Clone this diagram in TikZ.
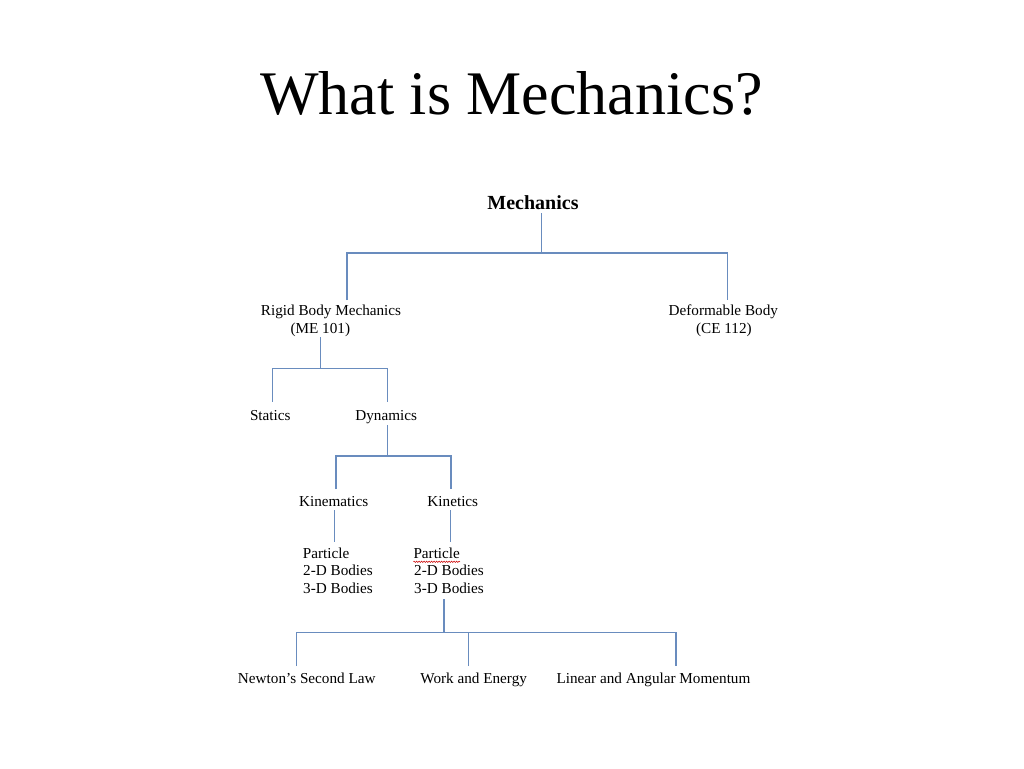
\documentclass[tikz,border=0pt]{standalone}
\usepackage{fontspec}
\setmainfont{Liberation Serif}
\usetikzlibrary{decorations.pathmorphing,calc}
\definecolor{linkblue}{RGB}{105,140,190}
\begin{document}
\begin{tikzpicture}[x=1pt,y=-1pt,
  lbl/.style={inner sep=0pt,anchor=base,font=\fontsize{15.2}{17.6}\selectfont},
  lblw/.style={lbl,anchor=base west},
  link/.style={draw=linkblue,line width=1.3pt}]
\useasboundingbox[fill=white] (0,0) rectangle (1024,768);
% title
\node[inner sep=0pt,anchor=base,font=\fontsize{62}{70}\selectfont] (title) at (511.5,114.5) {What is Mechanics?};
% nodes
\node[inner sep=0pt,anchor=base,font=\fontsize{20}{24}\selectfont\bfseries] (mech) at (533,209) {Mechanics};
\node[lbl] (rigid) at (331,315) {Rigid Body Mechanics};
\node[lbl] (rigid2) at (320.3,333) {(ME 101)};
\node[lbl] (deform) at (723.3,315) {Deformable Body};
\node[lbl] (deform2) at (723.9,333) {(CE 112)};
\node[lbl] (statics) at (270.3,420) {Statics};
\node[lbl] (dynamics) at (386.2,420) {Dynamics};
\node[lbl] (kinem) at (333.7,506) {Kinematics};
\node[lbl] (kinet) at (452.8,506) {Kinetics};
\node[lblw] (lp) at (302.7,558.3) {Particle};
\node[lblw] (l2) at (303,575.7) {2-D Bodies};
\node[lblw] (l3) at (303,593.3) {3-D Bodies};
\node[lblw] (rp) at (413.3,558.3) {Particle};
\node[lblw] (r2) at (414,575.7) {2-D Bodies};
\node[lblw] (r3) at (414,593.3) {3-D Bodies};
\node[lbl] (newton) at (306.8,683.8) {Newton’s Second Law};
\node[lbl] (work) at (473.7,683.8) {Work and Energy};
\node[lbl] (linear) at (653.5,683.8) {Linear and Angular Momentum};
% spell-check underline
\draw[red!80!black,line width=0.5pt,decorate,decoration={snake,amplitude=0.7pt,segment length=2.5pt}]
  ($(rp.base west)+(0,3.5)$) -- ($(rp.base east)+(0,3.5)$);
% connector points
\coordinate (m0) at (541.7,213);
\coordinate (m1) at (541.7,253);
\coordinate (rbT) at (347,300);
\coordinate (dfT) at (727.7,300);
\coordinate (rbB) at (320.3,337);
\coordinate (rbJ) at (320.3,368.3);
\coordinate (stT) at (272.3,401.7);
\coordinate (dyT) at (387.7,401.7);
\coordinate (dyB) at (387.3,425);
\coordinate (dyJ) at (387.3,456);
\coordinate (kmT) at (336,489);
\coordinate (ktT) at (451,489);
\coordinate (kmB) at (334.7,510);
\coordinate (kmL) at (334.7,541.7);
\coordinate (ktB) at (450.3,510);
\coordinate (ktL) at (450.3,541.7);
\coordinate (bB) at (444,599);
\coordinate (bJ) at (444,632.8);
\coordinate (nwT) at (296.2,666);
\coordinate (wkT) at (468.6,666);
\coordinate (lnT) at (675.9,666);
% connectors
\draw[link] (m0) -- (m1);
\draw[link] (rbT) -- (rbT |- m1) -- (dfT |- m1) -- (dfT);
\draw[link] (rbB) -- (rbJ);
\draw[link] (stT) -- (stT |- rbJ) -- (dyT |- rbJ) -- (dyT);
\draw[link] (dyB) -- (dyJ);
\draw[link] (kmT) -- (kmT |- dyJ) -- (ktT |- dyJ) -- (ktT);
\draw[link] (kmB) -- (kmL);
\draw[link] (ktB) -- (ktL);
\draw[link] (bB) -- (bJ);
\draw[link] (nwT) -- (nwT |- bJ) -- (lnT |- bJ) -- (lnT);
\draw[link] (wkT) -- (wkT |- bJ);
\end{tikzpicture}
\end{document}
